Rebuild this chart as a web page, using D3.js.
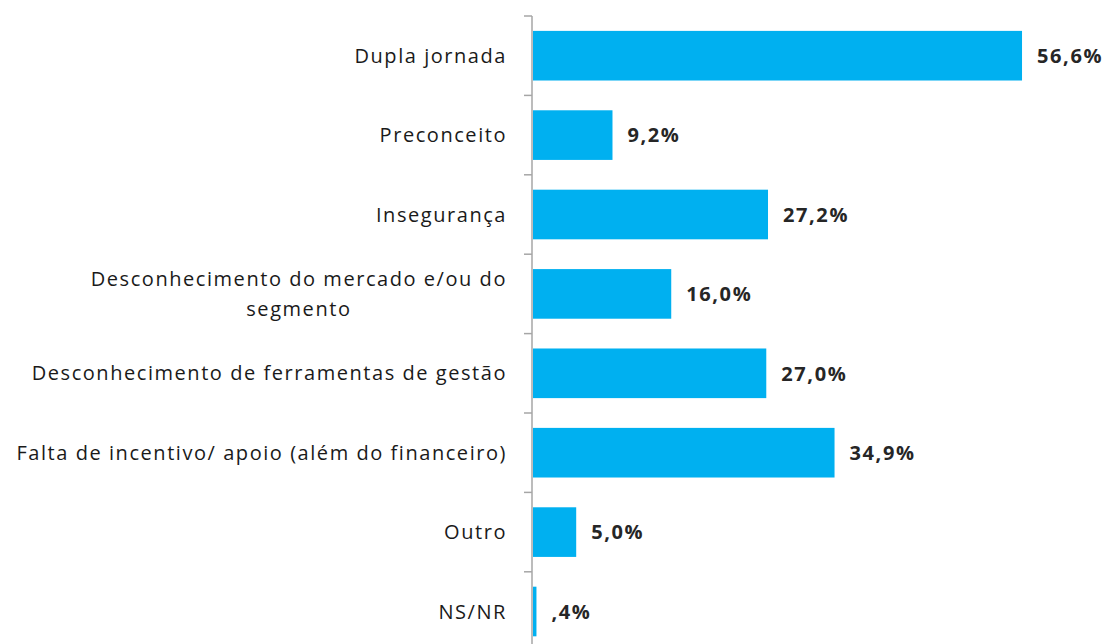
<!DOCTYPE html>
<html>
<head>
<meta charset="utf-8">
<script src="https://cdn.jsdelivr.net/npm/d3@7"></script>
<style>
  body { margin: 0; background: #fff; }
</style>
</head>
<body>
<div id="maincontainer"></div>
<script>
	// data
	let categories = [
		["Dupla jornada"],
		["Preconceito"],
		["Insegurança"],
		["Desconhecimento do mercado e/ou do", "segmento"],
		["Desconhecimento de ferramentas de gestão"],
		["Falta de incentivo/ apoio (além do financeiro)"],
		["Outro"],
		["NS/NR"]
	];
	let values = [56.6, 9.2, 27.2, 16.0, 27.0, 34.9, 5.0, 0.4];
	let valueLabels = ["56,6%", "9,2%", "27,2%", "16,0%", "27,0%", "34,9%", "5,0%", ",4%"];

	let width = 1107;
	let height = 644;

	let svg = d3.select("#maincontainer")
		.append("svg")
		.attr("width", width)
		.attr("height", height)
		.style("display", "block");

	let x = d3.scaleLinear()
		.domain([0, 60])
		.range([532, 532 + 60 * 8.64]);

	let y = d3.scaleBand()
		.domain(d3.range(categories.length))
		.range([16, 16 + 8 * 79.4])
		.paddingInner(0.375)
		.paddingOuter(0.1875);

	// axis line + ticks between categories
	let axis = svg.append("g").attr("class", "axis");
	axis.append("line")
		.attr("x1", x(0)).attr("x2", x(0))
		.attr("y1", y.range()[0]).attr("y2", y.range()[1])
		.attr("stroke", "#a6a6a6")
		.attr("stroke-width", 1.5);

	let step = y.step();
	axis.selectAll(".tick")
		.data(d3.range(categories.length + 1))
		.enter()
		.append("line")
		.attr("x1", x(0) - 8).attr("x2", x(0))
		.attr("y1", d => y.range()[0] + d * step)
		.attr("y2", d => y.range()[0] + d * step)
		.attr("stroke", "#a6a6a6")
		.attr("stroke-width", 1.5);

	// bars
	svg.append("g")
		.selectAll("rect")
		.data(values)
		.enter()
		.append("rect")
		.attr("x", x(0) + 1)
		.attr("y", (d, i) => y(i))
		.attr("width", d => x(d) - x(0))
		.attr("height", y.bandwidth())
		.attr("fill", "#00b0f0");

	// category labels
	let labelRight = x(0) - 25;
	let labels = svg.append("g")
		.style("font", "20px 'Open Sans', sans-serif")
		.style("letter-spacing", "1.55px")
		.attr("fill", "#1a1a1a");

	categories.forEach(function(lines, i) {
		let cy = y(i) + y.bandwidth() / 2;
		let t = labels.append("text");
		if (lines.length === 1) {
			t.attr("x", labelRight)
				.attr("y", cy)
				.attr("dy", "0.35em")
				.attr("text-anchor", "end")
				.text(lines[0]);
		} else {
			// multi-line: centered block, right edge on labelRight
			let probe = labels.append("text").text(lines[0]);
			let w = probe.node().getComputedTextLength();
			probe.remove();
			let lineH = 30;
			t.attr("text-anchor", "middle");
			lines.forEach(function(l, k) {
				t.append("tspan")
					.attr("x", labelRight - w / 2)
					.attr("y", cy + (k - (lines.length - 1) / 2) * lineH)
					.attr("dy", "0.35em")
					.text(l);
			});
		}
	});

	// value labels
	svg.append("g")
		.selectAll("text")
		.data(values)
		.enter()
		.append("text")
		.attr("x", d => x(d) + 16)
		.attr("y", (d, i) => y(i) + y.bandwidth() / 2)
		.attr("dy", "0.36em")
		.style("font", "bold 20px 'Open Sans', sans-serif")
		.style("letter-spacing", "1.6px")
		.attr("fill", "#262626")
		.text((d, i) => valueLabels[i]);
</script>
</body>
</html>
